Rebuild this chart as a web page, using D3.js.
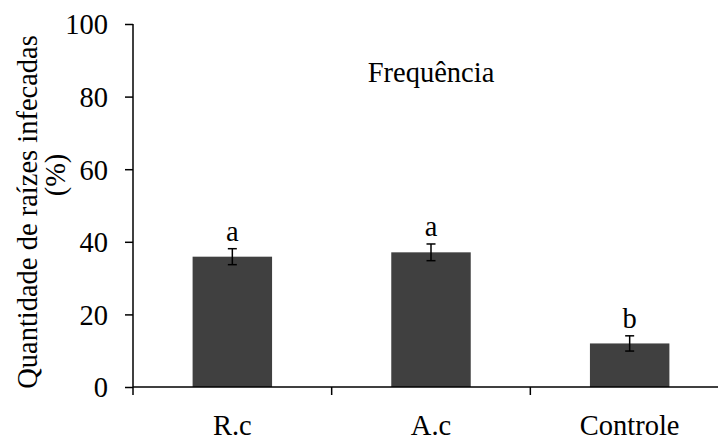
<!DOCTYPE html>
<html>
<head>
<meta charset="utf-8">
<script src="https://cdn.jsdelivr.net/npm/d3@7"></script>
<style>
  body { margin: 0; background: #fff; }
</style>
</head>
<body>
<div class="chart"></div>
<script>
// chart data
var categories = ["R.c", "A.c", "Controle"];
var values = [35.9, 37.1, 12.0];
var errors = [2.2, 2.3, 2.1];
var letters = ["a", "a", "b"];
var yTicks = [0, 20, 40, 60, 80, 100];

var serif = "'Liberation Serif', 'Times New Roman', serif";
var fontSize = "28.5px";

var svgWidth = 718, svgHeight = 442;
var margin = { top: 24, right: -11, bottom: 55, left: 133 };
var width = svgWidth - margin.left - margin.right;
var height = svgHeight - margin.top - margin.bottom;

var svg = d3.select(".chart").append("svg")
    .attr("width", svgWidth)
    .attr("height", svgHeight)
    .style("font-family", serif);

var chartGroup = svg.append("g")
    .attr("transform", `translate(${margin.left}, ${margin.top})`);

// scales
var xScale = d3.scaleBand()
    .domain(categories)
    .range([0, width])
    .paddingInner(0.6)
    .paddingOuter(0.3);

var yScale = d3.scaleLinear()
    .domain([0, 100])
    .range([height, 0]);

// bars
chartGroup.selectAll("rect.bar")
    .data(values)
    .enter()
    .append("rect")
    .attr("class", "bar")
    .attr("x", (d, i) => xScale(categories[i]))
    .attr("y", d => yScale(d))
    .attr("width", xScale.bandwidth())
    .attr("height", d => height - yScale(d))
    .attr("fill", "#404040");

// error bars
var errG = chartGroup.selectAll("g.err")
    .data(values)
    .enter()
    .append("g")
    .attr("class", "err")
    .attr("transform", (d, i) => `translate(${xScale(categories[i]) + xScale.bandwidth() / 2},0)`);

errG.append("line")
    .attr("y1", (d, i) => yScale(d + errors[i]))
    .attr("y2", (d, i) => yScale(d - errors[i]))
    .attr("stroke", "#000").attr("stroke-width", 1.5);
errG.append("line")
    .attr("x1", -4.5).attr("x2", 4.5)
    .attr("y1", (d, i) => yScale(d + errors[i]))
    .attr("y2", (d, i) => yScale(d + errors[i]))
    .attr("stroke", "#000").attr("stroke-width", 1.5);
errG.append("line")
    .attr("x1", -4.5).attr("x2", 4.5)
    .attr("y1", (d, i) => yScale(d - errors[i]))
    .attr("y2", (d, i) => yScale(d - errors[i]))
    .attr("stroke", "#000").attr("stroke-width", 1.5);

// significance letters
errG.append("text")
    .attr("y", (d, i) => yScale(d + errors[i]) - 8)
    .attr("text-anchor", "middle")
    .style("font-family", serif)
    .style("font-size", fontSize)
    .text((d, i) => letters[i]);

// y axis
var leftAxis = d3.axisLeft(yScale)
    .tickValues(yTicks)
    .tickSize(8)
    .tickPadding(17);

var yAxisG = chartGroup.append("g").call(leftAxis)
    .attr("font-family", null)
    .attr("font-size", null);
yAxisG.select(".domain").attr("d", `M0,0V${height}`).attr("stroke-width", 1.5);
yAxisG.selectAll(".tick line").attr("stroke-width", 1.5);
yAxisG.selectAll(".tick text")
    .style("font-family", serif)
    .style("font-size", fontSize)
    .attr("fill", "#000")
    .attr("dy", "0.35em");

// x axis: ticks at category boundaries, pointing down
var step = xScale.step();
var boundaries = d3.range(categories.length).map(i => i * step);
var xAxisG = chartGroup.append("g")
    .attr("transform", `translate(0, ${height})`);
xAxisG.append("line")
    .attr("x1", 0).attr("x2", width)
    .attr("stroke", "#000").attr("stroke-width", 1.5);
xAxisG.selectAll("line.tick")
    .data(boundaries)
    .enter()
    .append("line")
    .attr("class", "tick")
    .attr("x1", d => d).attr("x2", d => d)
    .attr("y1", 0).attr("y2", 8)
    .attr("stroke", "#000").attr("stroke-width", 1.5);
xAxisG.selectAll("text.cat")
    .data(categories)
    .enter()
    .append("text")
    .attr("class", "cat")
    .attr("x", d => xScale(d) + xScale.bandwidth() / 2)
    .attr("y", 48)
    .attr("text-anchor", "middle")
    .style("font-family", serif)
    .style("font-size", fontSize)
    .text(d => d);

// title
chartGroup.append("text")
    .attr("x", 298)
    .attr("y", 58)
    .attr("text-anchor", "middle")
    .style("font-family", serif)
    .style("font-size", fontSize)
    .text("Frequência");

// y axis label (two lines)
svg.append("text")
    .attr("transform", "translate(37, 212) rotate(-90)")
    .attr("text-anchor", "middle")
    .style("font-family", serif)
    .style("font-size", fontSize)
    .text("Quantidade de raízes infecadas");
svg.append("text")
    .attr("transform", "translate(65, 175) rotate(-90)")
    .attr("text-anchor", "middle")
    .style("font-family", serif)
    .style("font-size", fontSize)
    .text("(%)");
</script>
</body>
</html>
